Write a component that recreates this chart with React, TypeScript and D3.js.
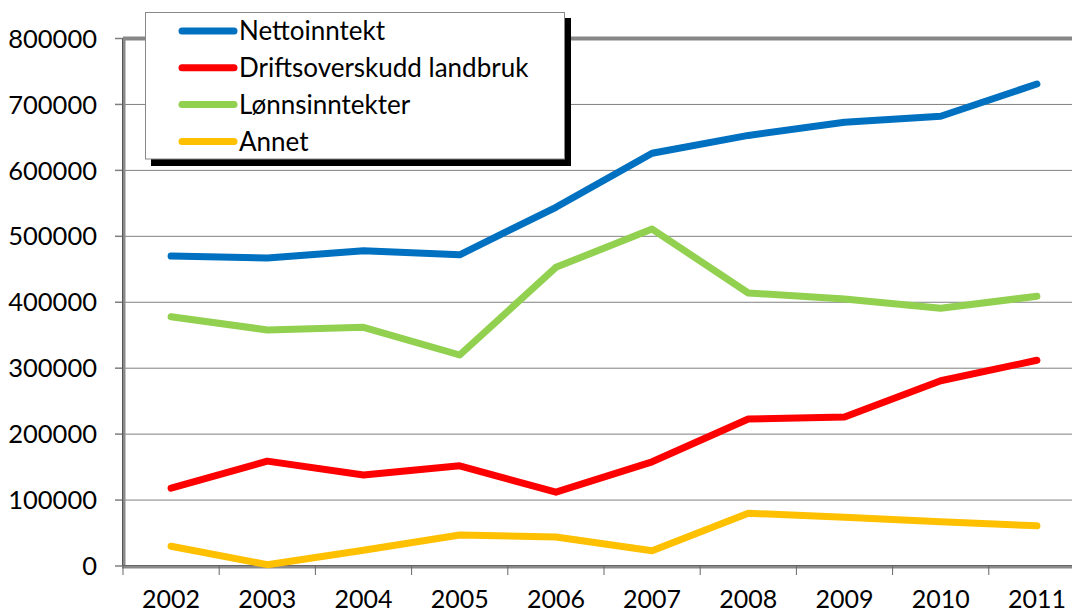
import * as d3 from "d3";

const years = ["2002", "2003", "2004", "2005", "2006", "2007", "2008", "2009", "2010", "2011"];
const nettoinntekt = [470000, 467000, 478000, 472000, 544000, 626000, 653000, 673000, 682000, 731000];
const driftsoverskudd = [118000, 159000, 138000, 152000, 112000, 158000, 223000, 226000, 281000, 312000];
const lonnsinntekter = [378000, 358000, 362000, 320000, 453000, 511000, 414000, 405000, 391000, 409000];
const annet = [30000, 2000, 24000, 47000, 44000, 23000, 80000, 74000, 67000, 61000];
const yTicks = [0, 100000, 200000, 300000, 400000, 500000, 600000, 700000, 800000];

const series = [
  { name: "Nettoinntekt", values: nettoinntekt, color: "#0070C0" },
  { name: "Driftsoverskudd landbruk", values: driftsoverskudd, color: "#FF0000" },
  { name: "Lønnsinntekter", values: lonnsinntekter, color: "#92D050" },
  { name: "Annet", values: annet, color: "#FFC000" },
];

const W = 1072;
const H = 614;
const font = "Lato, 'Open Sans', sans-serif";

export default function App() {
  const x = d3.scaleBand<string>().domain(years).range([123, 1085]);
  const y = d3.scaleLinear().domain([0, 800000]).range([566, 38.5]);
  const line = d3
    .line<number>()
    .x((_, i) => x(years[i])! + x.bandwidth() / 2)
    .y((d) => y(d));

  // draw order: back to front like the original
  const drawOrder = [series[3], series[1], series[2], series[0]];

  return (
    <svg
      width={W}
      height={H}
      style={{ position: "absolute", left: 0, top: 0, background: "#fff" }}
      fontFamily={font}
    >
      {/* gridlines */}
      {yTicks.slice(1, -1).map((t) => (
        <line key={t} x1={123} x2={W} y1={y(t)} y2={y(t)} stroke="#808080" strokeWidth={1} />
      ))}
      <line x1={123} x2={W} y1={y(800000)} y2={y(800000)} stroke="#878787" strokeWidth={4} />

      {/* y axis */}
      {yTicks.map((t) => (
        <g key={t}>
          <line x1={115} x2={123} y1={y(t)} y2={y(t)} stroke="#7f7f7f" strokeWidth={1.5} />
          <text x={97} y={y(t)} dy="0.36em" textAnchor="end" fontSize={25.5} fill="#000">
            {t}
          </text>
        </g>
      ))}
      <line x1={124} x2={124} y1={y(800000)} y2={567} stroke="#8a8a8a" strokeWidth={3} />
      <line x1={122.5} x2={122.5} y1={y(800000)} y2={567} stroke="#555" strokeWidth={1} />

      {/* x axis */}
      <line x1={122} x2={W} y1={567} y2={567} stroke="#8a8a8a" strokeWidth={3} />
      <line x1={122} x2={W} y1={565.5} y2={565.5} stroke="#666" strokeWidth={1} />
      {years.map((yr) => (
        <g key={yr}>
          <line x1={x(yr)!} x2={x(yr)!} y1={566} y2={575} stroke="#666" strokeWidth={1} />
          <text x={x(yr)! + x.bandwidth() / 2} y={608} textAnchor="middle" fontSize={25} fill="#000">
            {yr}
          </text>
        </g>
      ))}

      {/* lines */}
      {drawOrder.map((s) => (
        <path
          key={s.name}
          d={line(s.values)!}
          fill="none"
          stroke={s.color}
          strokeWidth={7}
          strokeLinecap="round"
          strokeLinejoin="round"
        />
      ))}

      {/* legend */}
      <rect x={151} y={18} width={420} height={148} fill="#000" />
      <rect x={145.5} y={12.5} width={419} height={146.5} fill="#fff" stroke="#888" strokeWidth={1} />
      {series.map((s, i) => (
        <g key={s.name} transform={`translate(0, ${31 + i * 36.8})`}>
          <line x1={182} x2={234} y1={0} y2={0} stroke={s.color} strokeWidth={7} strokeLinecap="round" />
          <text x={239} y={0} dy="0.36em" fontSize={26} fill="#000">
            {s.name}
          </text>
        </g>
      ))}
    </svg>
  );
}
